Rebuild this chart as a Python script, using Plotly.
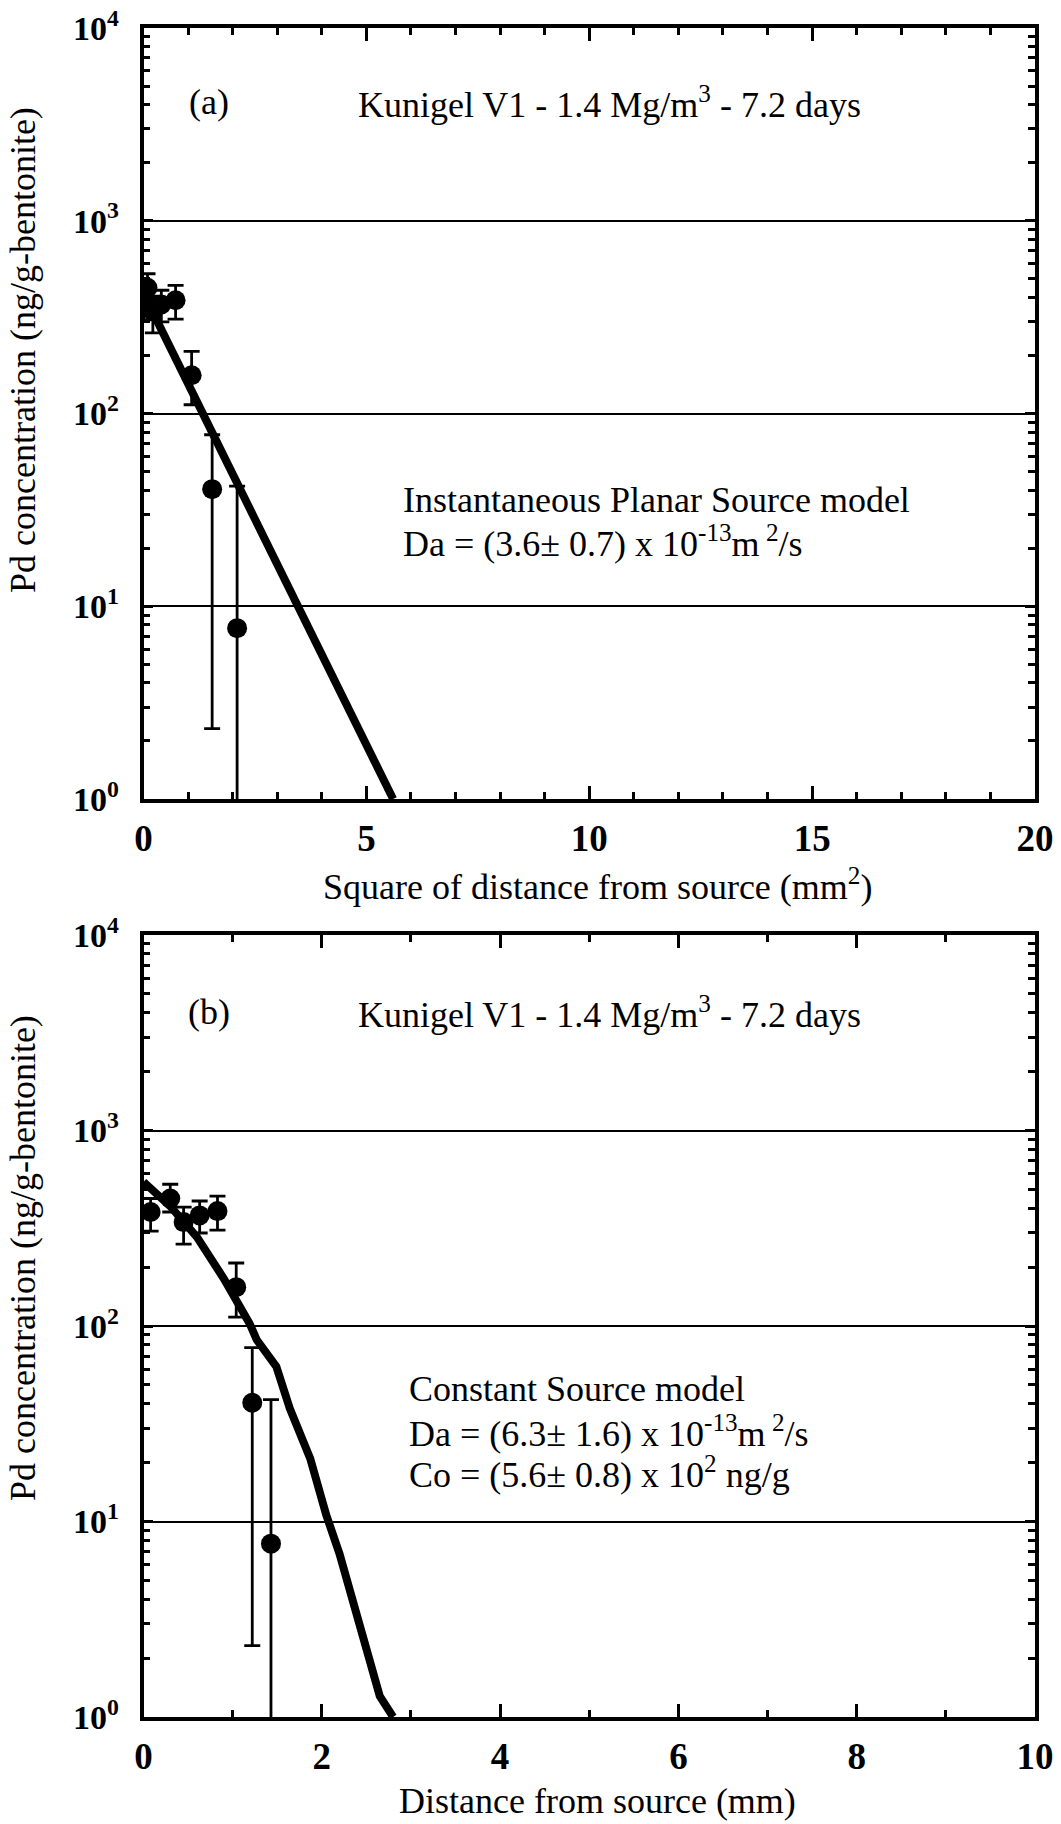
import plotly.graph_objects as go

# Measured Pd profile in Kunigel V1 (1.4 Mg/m3, 7.2 days)
dist_mm = [0.08, 0.30, 0.45, 0.63, 0.83, 1.04, 1.22, 1.43]
dist_sq_mm2 = [0.01, 0.09, 0.21, 0.40, 0.72, 1.08, 1.54, 2.10]
conc = [383, 449, 340, 368, 387, 158, 40.5, 7.7]
conc_hi = [449, 531, 406, 436, 462, 210, 77.6, 42.0]
conc_lo = [306, 383, 262, 299, 309, 111, 2.32, 0.3]

# Model curves
ips_x = [0.0, 5.6]
ips_y = [420, 1.0]
cs_x = [0.0, 0.3, 0.6, 0.9, 1.19, 1.27, 1.49, 1.64, 1.87, 2.05, 2.20, 2.42, 2.65, 2.80]
cs_y = [546, 410, 285, 175, 103, 85, 62, 38, 21, 10.8, 6.8, 2.9, 1.28, 1.0]

y_tickvals = [1, 10, 100, 1000, 10000]
y_ticktext = ["10<sup>0</sup>", "10<sup>1</sup>", "10<sup>2</sup>", "10<sup>3</sup>", "10<sup>4</sup>"]

W, H = 1061, 1824
X0, X1 = 143.5, 1035
A_TOP, A_BOT = 28, 799
B_TOP, B_BOT = 935, 1717

SERIF = "Liberation Serif, Times New Roman, serif"
TXT = dict(family=SERIF, size=36, color="black")
XTICKF = dict(family=SERIF, size=37, color="black", weight="bold")
YTICKF = dict(family=SERIF, size=34, color="black", weight="bold")

fig = go.Figure()

err_plus = [h - c for h, c in zip(conc_hi, conc)]
err_minus = [c - l for c, l in zip(conc, conc_lo)]

def add_panel(xs, fitx, fity, xa, ya):
    fig.add_trace(go.Scatter(
        x=fitx, y=fity, mode="lines", xaxis=xa, yaxis=ya,
        line=dict(color="black", width=8), showlegend=False, hoverinfo="skip"))
    fig.add_trace(go.Scatter(
        x=xs, y=conc, mode="markers", xaxis=xa, yaxis=ya,
        marker=dict(color="black", size=20),
        error_y=dict(type="data", array=err_plus, arrayminus=err_minus,
                     color="black", thickness=2.8, width=8),
        showlegend=False))

add_panel(dist_sq_mm2, ips_x, ips_y, "x", "y")
add_panel(dist_mm, cs_x, cs_y, "x2", "y2")

def ydom(top, bot):
    return [1 - bot / H, 1 - top / H]

xdom = [X0 / W, X1 / W]

common_x = dict(
    showline=True, linecolor="black", linewidth=3.5, mirror="ticks",
    ticks="inside", ticklen=13, tickwidth=2.5, tickcolor="black",
    showgrid=False, zeroline=False, tickfont=XTICKF,
    ticklabelstandoff=4, automargin=False,
)
common_y = dict(
    type="log", range=[0, 4], showline=True, linecolor="black", linewidth=3.5,
    mirror="ticks", ticks="inside", ticklen=10, tickwidth=2.5, tickcolor="black",
    tickvals=y_tickvals, ticktext=y_ticktext, tickfont=YTICKF,
    showgrid=True, gridcolor="black", gridwidth=2.4, zeroline=False,
    minor=dict(ticks="inside", ticklen=7, tickwidth=2.5, tickcolor="black",
               dtick="D1", showgrid=False),
    ticklabelstandoff=14, automargin=False,
)

fig.update_layout(
    width=W, height=H,
    margin=dict(l=0, r=0, t=0, b=0, autoexpand=False),
    paper_bgcolor="white", plot_bgcolor="white",
    xaxis=dict(domain=xdom, anchor="y", range=[0, 20], tickvals=[0, 5, 10, 15, 20],
               minor=dict(ticks="inside", ticklen=7, tickwidth=2.5, tickcolor="black", dtick=1),
               **common_x),
    yaxis=dict(domain=ydom(A_TOP, A_BOT), anchor="x", **common_y),
    xaxis2=dict(domain=xdom, anchor="y2", range=[0, 10], tickvals=[0, 2, 4, 6, 8, 10],
                minor=dict(ticks="inside", ticklen=7, tickwidth=2.5, tickcolor="black", dtick=1),
                **common_x),
    yaxis2=dict(domain=ydom(B_TOP, B_BOT), anchor="x2", **common_y),
)

def px_x(x):
    return x / W

def px_y(y):
    return 1 - y / H

def note(x, y, text, xanchor="left", angle=0, font=TXT):
    fig.add_annotation(x=px_x(x), y=px_y(y), xref="paper", yref="paper",
                       text=text, showarrow=False, xanchor=xanchor, yanchor="middle",
                       textangle=angle, font=font)

title = "Kunigel V1 - 1.4 Mg/m<sup>3</sup> - 7.2 days"

# panel (a)
note(209, 102, "(a)", xanchor="center")
note(609, 102, title, xanchor="center")
note(401, 500, "Instantaneous Planar Source model")
note(401, 541, "Da = (3.6\u00b1 0.7) x 10<sup>-13</sup>m<sup> 2</sup>/s")
note(23, 350, "Pd concentration (ng/g-bentonite)", xanchor="center", angle=-90)
note(597, 884, "Square of distance from source (mm<sup>2</sup>)", xanchor="center")

# panel (b)
note(209, 1012, "(b)", xanchor="center")
note(609, 1012, title, xanchor="center")
note(407, 1389, "Constant Source model")
note(407, 1431, "Da = (6.3\u00b1 1.6) x 10<sup>-13</sup>m<sup> 2</sup>/s")
note(407, 1472, "Co = (5.6\u00b1 0.8) x 10<sup>2</sup> ng/g")
note(23, 1258, "Pd concentration (ng/g-bentonite)", xanchor="center", angle=-90)
note(597, 1801, "Distance from source (mm)", xanchor="center")

fig.write_html("out.html")
